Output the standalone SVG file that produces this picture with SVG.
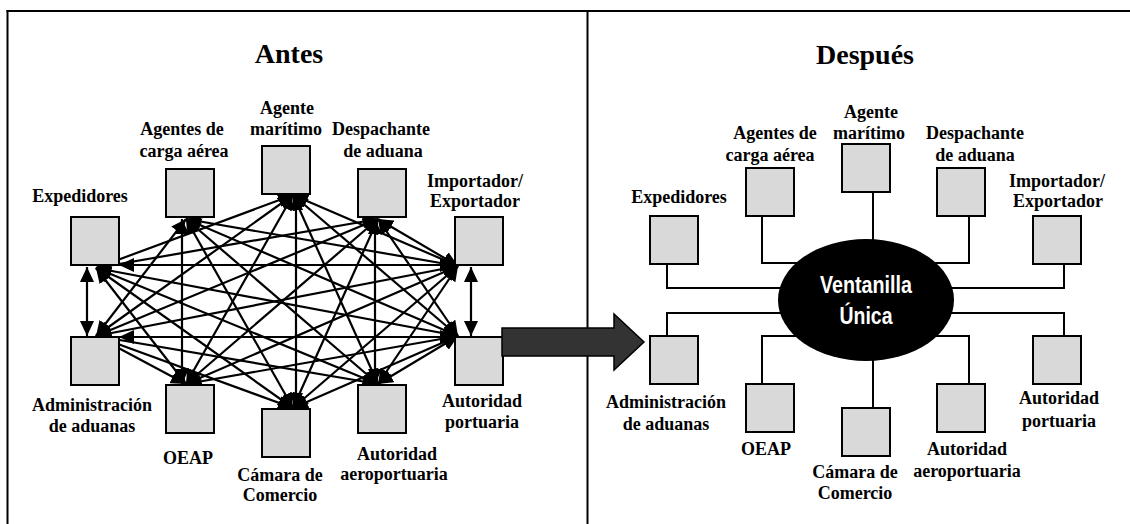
<svg xmlns="http://www.w3.org/2000/svg" width="1130" height="524" viewBox="0 0 1130 524">
<style>
.box{fill:#d9d9d9;stroke:#000;stroke-width:2}
.lbl{font-family:"Liberation Serif","Times New Roman",serif;font-weight:bold;font-size:18px;text-anchor:middle;fill:#000}
.title{font-size:28px}
.frame{stroke:#000;stroke-width:2;fill:none}
.arr line{stroke:#000;stroke-width:2.2;marker-start:url(#ah);marker-end:url(#ah)}
.wire{fill:none;stroke:#000;stroke-width:2}
.vu{font-family:"Liberation Sans Narrow","Arial Narrow","Liberation Sans",sans-serif;font-size:23px;font-weight:bold;fill:#fff;text-anchor:middle}
</style>
<defs>
<marker id="ah" viewBox="0 0 15 14" refX="15" refY="7" markerWidth="15" markerHeight="14" markerUnits="userSpaceOnUse" orient="auto-start-reverse"><path d="M0,0 L15,7 L0,14 z" fill="#000"/></marker>
</defs>
<rect width="1130" height="524" fill="#fff"/>
<g id="frame">
<line class="frame" x1="6.5" y1="11" x2="1130" y2="11"/>
<line class="frame" x1="7.5" y1="10" x2="7.5" y2="524"/>
<line class="frame" x1="587.5" y1="10" x2="587.5" y2="524"/>
</g>
<text class="lbl title" x="289" y="63">Antes</text>
<text class="lbl title" x="865" y="64">Después</text>

<g id="connectors-antes" class="arr">
<line x1="119" y1="265" x2="455" y2="265"/>
<line x1="119" y1="337" x2="455" y2="337"/>
<line x1="87" y1="267" x2="87" y2="336"/>
<line x1="471" y1="267" x2="471" y2="336"/>
<line x1="182" y1="219" x2="182" y2="384"/>
<line x1="296" y1="195" x2="296" y2="408"/>
<line x1="375" y1="219" x2="375" y2="384"/>
<line x1="96" y1="268" x2="186" y2="384"/>
<line x1="96" y1="268" x2="293" y2="408"/>
<line x1="96" y1="268" x2="378" y2="384"/>
<line x1="96" y1="268" x2="458" y2="336"/>
<line x1="96" y1="268" x2="293" y2="195"/>
<line x1="96" y1="268" x2="378" y2="219"/>
<line x1="186" y1="219" x2="96" y2="336"/>
<line x1="186" y1="219" x2="293" y2="408"/>
<line x1="186" y1="219" x2="378" y2="384"/>
<line x1="186" y1="219" x2="458" y2="336"/>
<line x1="186" y1="219" x2="458" y2="266"/>
<line x1="293" y1="195" x2="96" y2="336"/>
<line x1="293" y1="195" x2="186" y2="384"/>
<line x1="293" y1="195" x2="378" y2="384"/>
<line x1="293" y1="195" x2="458" y2="336"/>
<line x1="293" y1="195" x2="458" y2="266"/>
<line x1="378" y1="219" x2="96" y2="336"/>
<line x1="378" y1="219" x2="186" y2="384"/>
<line x1="378" y1="219" x2="293" y2="408"/>
<line x1="378" y1="219" x2="458" y2="336"/>
<line x1="378" y1="219" x2="458" y2="266"/>
<line x1="458" y1="266" x2="96" y2="336"/>
<line x1="458" y1="266" x2="186" y2="384"/>
<line x1="458" y1="266" x2="293" y2="408"/>
<line x1="458" y1="266" x2="378" y2="384"/>
<line x1="96" y1="336" x2="186" y2="384"/>
<line x1="96" y1="336" x2="293" y2="408"/>
<line x1="96" y1="336" x2="378" y2="384"/>
<line x1="186" y1="384" x2="458" y2="336"/>
<line x1="293" y1="408" x2="458" y2="336"/>
<line x1="378" y1="384" x2="458" y2="336"/>
</g>

<g id="a-exp"><rect class="box" x="71" y="217" width="48" height="48"/><text class="lbl" x="80" y="202">Expedidores</text></g>
<g id="a-agentes"><rect class="box" x="166" y="169" width="48" height="48"/><text class="lbl" x="182" y="135">Agentes de</text><text class="lbl" x="184" y="157">carga aérea</text></g>
<g id="a-agente"><rect class="box" x="262" y="146" width="48" height="48"/><text class="lbl" x="287" y="114">Agente</text><text class="lbl" x="286" y="135">marítimo</text></g>
<g id="a-desp"><rect class="box" x="358" y="169" width="48" height="48"/><text class="lbl" x="381" y="135">Despachante</text><text class="lbl" x="383" y="157">de aduana</text></g>
<g id="a-imp"><rect class="box" x="455" y="217" width="48" height="48"/><text class="lbl" x="475" y="187">Importador/</text><text class="lbl" x="475" y="207">Exportador</text></g>
<g id="a-adm"><rect class="box" x="71" y="337" width="48" height="48"/><text class="lbl" x="92" y="411">Administración</text><text class="lbl" x="92" y="432">de aduanas</text></g>
<g id="a-oeap"><rect class="box" x="166" y="385" width="48" height="48"/><text class="lbl" x="188" y="464">OEAP</text></g>
<g id="a-camara"><rect class="box" x="262" y="409" width="48" height="48"/><text class="lbl" x="280" y="481">Cámara de</text><text class="lbl" x="280" y="501">Comercio</text></g>
<g id="a-aero"><rect class="box" x="358" y="385" width="48" height="48"/><text class="lbl" x="397" y="460">Autoridad</text><text class="lbl" x="394" y="480">aeroportuaria</text></g>
<g id="a-port"><rect class="box" x="455" y="337" width="48" height="48"/><text class="lbl" x="482" y="407">Autoridad</text><text class="lbl" x="482" y="428">portuaria</text></g>

<g id="big-arrow"><polygon points="502,328 614,328 614,314 644,342 614,370 614,356 502,356" fill="#333" stroke="#000" stroke-width="1.5"/></g>

<g id="connectors-despues">
<path class="wire" d="M762,216 V263 H866"/>
<path class="wire" d="M969,216 V263 H866"/>
<path class="wire" d="M667,264 V288 H866"/>
<path class="wire" d="M1064,264 V288 H866"/>
<path class="wire" d="M667,336 V313 H866"/>
<path class="wire" d="M1064,336 V313 H866"/>
<path class="wire" d="M762,384 V336 H866"/>
<path class="wire" d="M969,384 V336 H866"/>
<path class="wire" d="M873,192 V300"/>
<path class="wire" d="M873,408 V300"/>
</g>

<g id="ventanilla"><ellipse cx="866" cy="300" rx="88" ry="61" fill="#000"/><text class="vu" x="866" y="293" textLength="92" lengthAdjust="spacingAndGlyphs">Ventanilla</text><text class="vu" x="866" y="324" textLength="53" lengthAdjust="spacingAndGlyphs">Única</text></g>

<g id="d-exp"><rect class="box" x="650" y="216" width="48" height="48"/><text class="lbl" x="679" y="203">Expedidores</text></g>
<g id="d-agentes"><rect class="box" x="746" y="168" width="48" height="48"/><text class="lbl" x="775" y="139">Agentes de</text><text class="lbl" x="770" y="161">carga aérea</text></g>
<g id="d-agente"><rect class="box" x="842" y="144" width="48" height="48"/><text class="lbl" x="871" y="118">Agente</text><text class="lbl" x="869" y="139">marítimo</text></g>
<g id="d-desp"><rect class="box" x="937" y="168" width="48" height="48"/><text class="lbl" x="975" y="139">Despachante</text><text class="lbl" x="975" y="161">de aduana</text></g>
<g id="d-imp"><rect class="box" x="1033" y="216" width="48" height="48"/><text class="lbl" x="1057" y="187">Importador/</text><text class="lbl" x="1058" y="207">Exportador</text></g>
<g id="d-adm"><rect class="box" x="650" y="336" width="48" height="48"/><text class="lbl" x="666" y="408">Administración</text><text class="lbl" x="666" y="430">de aduanas</text></g>
<g id="d-oeap"><rect class="box" x="746" y="384" width="48" height="48"/><text class="lbl" x="766" y="455">OEAP</text></g>
<g id="d-camara"><rect class="box" x="842" y="408" width="48" height="48"/><text class="lbl" x="855" y="478">Cámara de</text><text class="lbl" x="855" y="499">Comercio</text></g>
<g id="d-aero"><rect class="box" x="937" y="384" width="48" height="48"/><text class="lbl" x="967" y="455">Autoridad</text><text class="lbl" x="967" y="477">aeroportuaria</text></g>
<g id="d-port"><rect class="box" x="1033" y="336" width="48" height="48"/><text class="lbl" x="1059" y="404">Autoridad</text><text class="lbl" x="1059" y="427">portuaria</text></g>
</svg>
